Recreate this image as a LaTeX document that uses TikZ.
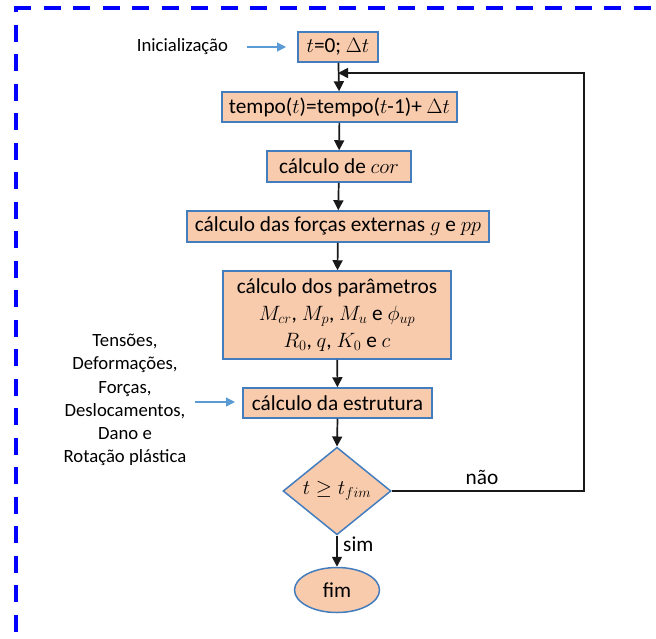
\documentclass[tikz,border=0pt]{standalone}
\usepackage{fontspec}
\setmainfont{Carlito}
\usetikzlibrary{arrows.meta,shapes.geometric}
\definecolor{boxfill}{HTML}{F8CBAD}
\definecolor{boxline}{RGB}{68,125,190}
\definecolor{hintblue}{HTML}{5B9BD5}
\definecolor{frameblue}{RGB}{0,0,255}
\begin{document}
\begin{tikzpicture}[x=1pt,y=-1pt,
  stepbox/.style={draw=boxline, line width=1.5pt, fill=boxfill, inner sep=0pt,
    align=center, font=\fontsize{21.3}{26}\selectfont},
  flow/.style={line width=1.7pt, draw=black!90, -{Triangle[length=10pt,width=10pt]}},
  hint/.style={draw=hintblue, line width=1.3pt, -{Triangle[length=9pt,width=9pt]}},
  sidetext/.style={font=\fontsize{18.7}{23.2}\selectfont, align=center, inner sep=0pt},
  labeltext/.style={font=\fontsize{21.3}{26}\selectfont, inner sep=0pt},
  frame/.style={draw=frameblue, line width=3.5pt, dash pattern=on 17pt off 12.5pt}]
\useasboundingbox (0,0) rectangle (656,638);

% dashed frame (top and left edges)
\draw[frame] (14,8) -- (670,8);
\draw[frame, dash phase=12.7pt] (16,8) -- (16,660);

% flowchart steps
\node[stepbox, minimum width=80pt, minimum height=30pt] (init) at (338,47) {$t$=0; $\Delta t$};
\node[stepbox, minimum width=235pt, minimum height=30pt] (tempo) at (339.5,107)
  {tempo($t$)=tempo($t$-1)+ $\Delta t$};
\node[stepbox, minimum width=144pt, minimum height=31pt] (cor) at (339,166.5) {cálculo de $cor$};
\node[stepbox, minimum width=302pt, minimum height=31pt] (forcas) at (338,226.5)
  {cálculo das forças externas $g$ e $pp$};
\node[stepbox, minimum width=228pt, minimum height=88pt] (param) at (337,315)
  {cálculo dos parâmetros\\[1pt] $M_{cr}$, $M_p$, $M_u$ e $\phi_{up}$\\[1pt] $R_0$, $q$, $K_0$ e $c$};
\node[stepbox, minimum width=189pt, minimum height=30pt] (estr) at (337.5,403) {cálculo da estrutura};
\node[stepbox, shape=diamond, minimum width=108pt, minimum height=85pt] (test) at (337,491)
  {$t \geq t_{fim}$};
\node[stepbox, shape=ellipse, minimum width=85pt, minimum height=45pt] (fim) at (337,590) {fim};

% side notes
\node[sidetext] (initnote) at (182.5,47) {Inicialização};
\node[sidetext] (results) at (125,400)
  {Tensões,\\ Deformações,\\ Forças,\\ Deslocamentos,\\ Dano e\\ Rotação plástica};
\coordinate (initarrow) at (247,47);
\coordinate (resarrow) at (195,402);
\draw[hint] (initarrow) -- (286,47);
\draw[hint] (resarrow) -- (235,402);

% main flow
\draw[flow] (init) -- (tempo);
\draw[flow] (tempo) -- (cor);
\draw[flow] (cor) -- (forcas);
\draw[flow] (forcas) -- (param);
\draw[flow] (param) -- (estr);
\draw[flow] (estr.south) -- (test.north);
\draw[flow] (test.south) -- (fim.north);

% loop back
\coordinate (loopR) at (584,491);
\coordinate (loopT) at (584,73);
\coordinate (join) at (338,73);
\draw[flow] (test.east) -- (loopR) -- (loopT) -- (join);

\node[labeltext] (nao) at (482,477) {não};
\node[labeltext, anchor=west] (sim) at (343,544) {sim};
\end{tikzpicture}
\end{document}
